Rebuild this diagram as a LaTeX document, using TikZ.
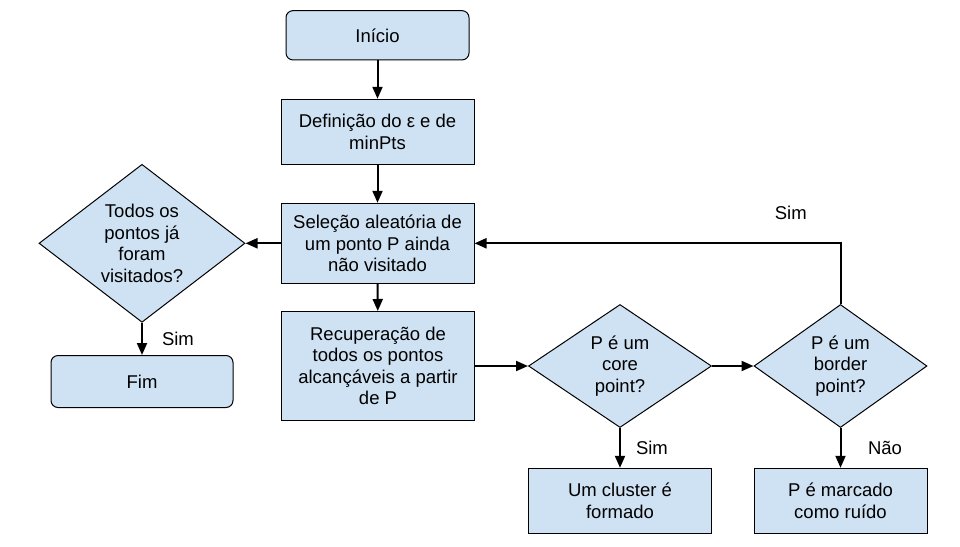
\documentclass[tikz,border=0pt]{standalone}
\usepackage{fontspec}
\setmainfont{Liberation Sans}
\usetikzlibrary{shapes.geometric,arrows.meta}
\definecolor{azulclaro}{HTML}{CFE2F3}

\begin{document}
\begin{tikzpicture}[x=1pt, y=-1pt,
	font=\fontsize{18.5}{21.5}\selectfont,
	caixa/.style={draw, fill=azulclaro, line width=1pt, align=center, inner sep=0pt},
	bloco/.style={caixa, rectangle},
	terminal/.style={caixa, rectangle, rounded corners=7pt},
	decisao/.style={caixa, diamond, shape aspect=1.4},
	seta/.style={-{Triangle[length=12pt,width=10pt]}, line width=2pt}]
	\useasboundingbox (0,0) rectangle (960,546);
	\node [terminal, minimum width=183pt, minimum height=49.3pt] (inicio) at (377.5,35.3) {Início};
	\node [bloco, minimum width=193pt, minimum height=65pt] (defin) at (377.5,131.8) {Definição do ε e de\\minPts};
	\node [bloco, minimum width=193pt, minimum height=80pt] (selec) at (377.5,243.3) {Seleção aleatória de\\um ponto P ainda\\não visitado};
	\node [bloco, minimum width=193pt, minimum height=109pt] (recup) at (378,366) {Recuperação de\\todos os pontos\\alcançáveis a partir\\de P};
	\node [decisao, minimum width=206pt, minimum height=158pt] (todos) at (142,243.3) {Todos os\\pontos já\\foram\\visitados?};
	\node [terminal, minimum width=182pt, minimum height=52pt] (fim) at (142,381.5) {Fim};
	\node [decisao, minimum width=183pt, minimum height=123pt] (core) at (620,366) {P é um\\core\\point?};
	\node [decisao, minimum width=173pt, minimum height=123pt] (border) at (840.5,366) {P é um\\border\\point?};
	\node [bloco, minimum width=183pt, minimum height=65pt] (cluster) at (620,500.8) {Um cluster é\\formado};
	\node [bloco, minimum width=173pt, minimum height=65pt] (ruido) at (840.5,500.8) {P é marcado\\como ruído};
	\foreach \de/\para in {inicio/defin, defin/selec, selec/todos, selec/recup, recup/core, core/border}
	{
		\draw [seta] (\de) -- (\para);
	}
	\foreach \de/\para/\rotulo/\desl in {todos/fim/Sim/19pt, core/cluster/Sim/15pt, border/ruido/Não/26.5pt}
	{
		\draw [seta] (\de) -- (\para) node [midway, right=\desl, inner sep=0pt] {\rotulo};
	}
	\draw [seta] (border.north) |- (selec.east) node [pos=0.568, above=23pt, inner sep=0pt] {Sim};
\end{tikzpicture}
\end{document}
